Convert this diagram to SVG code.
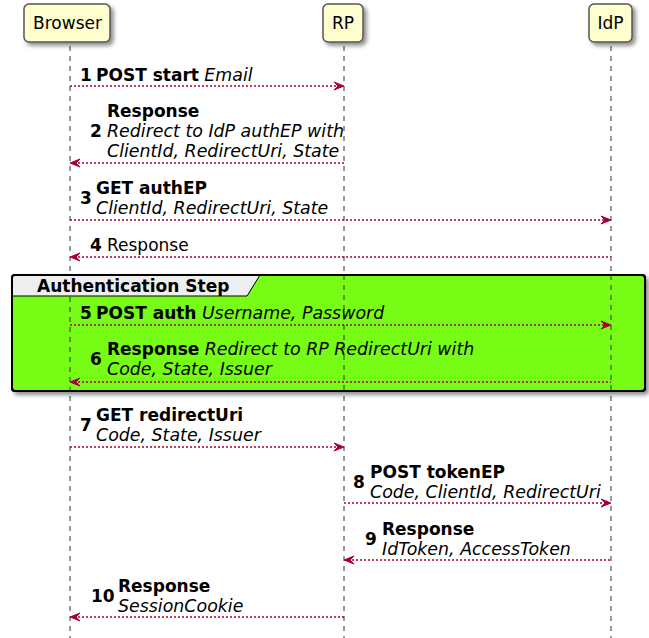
<svg xmlns="http://www.w3.org/2000/svg" width="649" height="638" viewBox="0 0 649 638">
<style>
text{font-family:"DejaVu Sans",sans-serif;font-size:17px;fill:#000}
.b{font-weight:bold}
.i{font-style:italic;font-size:17.4px}
.pt{font-size:17px}
.life{stroke:#333;stroke-width:1;stroke-dasharray:5,5;fill:none}
.msg{stroke:#A80036;stroke-width:1.5;stroke-dasharray:2,2;fill:none}
.head{fill:#A80036;stroke:#A80036;stroke-width:1}
.part{fill:#FEFECE;stroke:#555;stroke-width:1.5}
</style>
<defs>
<filter id="sh" x="-20%" y="-20%" width="150%" height="160%">
<feGaussianBlur in="SourceAlpha" stdDeviation="2"/>
<feOffset dx="3" dy="3" result="o"/>
<feComponentTransfer><feFuncA type="linear" slope="0.45"/></feComponentTransfer>
<feMerge><feMergeNode/><feMergeNode in="SourceGraphic"/></feMerge>
</filter>
</defs>
<g id="lifelines">
<line class="life" x1="70" y1="46" x2="70" y2="638"/>
<line class="life" x1="344" y1="46" x2="344" y2="638"/>
<line class="life" x1="611" y1="46" x2="611" y2="638"/>
</g>
<g id="group-auth">
<rect x="12" y="275" width="633" height="116" rx="3" fill="#77FC17" stroke="#000" stroke-width="2" filter="url(#sh)"/>
<path d="M12,278 Q12,275 15,275 L260,275 L247,296 L12,296 Z" fill="#EEEEEE" stroke="#000" stroke-width="1"/>
<rect x="12" y="275" width="633" height="116" rx="3" fill="none" stroke="#000" stroke-width="2"/>
<text class="b" x="37" y="292">Authentication Step</text>
<line class="life" x1="70" y1="297" x2="70" y2="391"/>
<line class="life" x1="344" y1="275" x2="344" y2="391"/>
<line class="life" x1="611" y1="275" x2="611" y2="391"/>
</g>
<g id="p-browser">
<rect class="part" x="24" y="4" width="86" height="38" rx="5" filter="url(#sh)"/>
<text class="pt" x="67.5" y="29" text-anchor="middle">Browser</text>
</g>
<g id="p-rp">
<rect class="part" x="323" y="4" width="40" height="38" rx="5" filter="url(#sh)"/>
<text class="pt" x="343" y="29" text-anchor="middle">RP</text>
</g>
<g id="p-idp">
<rect class="part" x="589" y="4" width="43" height="38" rx="5" filter="url(#sh)"/>
<text class="pt" x="610.5" y="29" text-anchor="middle">IdP</text>
</g>
<g id="connectors">
<line class="msg" x1="70" y1="86" x2="340" y2="86"/>
<polygon class="head" points="334,82 344,86 334,90 338,86"/>
<line class="msg" x1="74" y1="163" x2="344" y2="163"/>
<polygon class="head" points="80,159 70,163 80,167 76,163"/>
<line class="msg" x1="70" y1="220" x2="607" y2="220"/>
<polygon class="head" points="601,216 611,220 601,224 605,220"/>
<line class="msg" x1="74" y1="257" x2="611" y2="257"/>
<polygon class="head" points="80,253 70,257 80,261 76,257"/>
<line class="msg" x1="70" y1="325" x2="607" y2="325"/>
<polygon class="head" points="601,321 611,325 601,329 605,325"/>
<line class="msg" x1="74" y1="382" x2="611" y2="382"/>
<polygon class="head" points="80,378 70,382 80,386 76,382"/>
<line class="msg" x1="70" y1="447" x2="340" y2="447"/>
<polygon class="head" points="334,443 344,447 334,451 338,447"/>
<line class="msg" x1="344" y1="503" x2="607" y2="503"/>
<polygon class="head" points="601,499 611,503 601,507 605,503"/>
<line class="msg" x1="348" y1="560" x2="611" y2="560"/>
<polygon class="head" points="354,556 344,560 354,564 350,560"/>
<line class="msg" x1="74" y1="617" x2="344" y2="617"/>
<polygon class="head" points="80,613 70,617 80,621 76,617"/>
</g>
<g id="labels">
<text class="b" x="80" y="81">1</text>
<text x="96" y="81"><tspan class="b">POST start</tspan> <tspan class="i">Email</tspan></text>
<text class="b" x="107" y="117">Response</text>
<text class="b" x="90" y="137">2</text>
<text class="i" x="107" y="137">Redirect to IdP authEP with</text>
<text class="i" x="107" y="157">ClientId, RedirectUri, State</text>
<text class="b" x="96" y="194">GET authEP</text>
<text class="b" x="80" y="204">3</text>
<text class="i" x="96" y="214">ClientId, RedirectUri, State</text>
<text class="b" x="90" y="251">4</text>
<text x="107" y="251">Response</text>
<text class="b" x="80" y="319">5</text>
<text x="96" y="319"><tspan class="b">POST auth</tspan> <tspan class="i">Username, Password</tspan></text>
<text x="107" y="355"><tspan class="b">Response</tspan> <tspan class="i">Redirect to RP RedirectUri with</tspan></text>
<text class="b" x="90" y="365">6</text>
<text class="i" x="107" y="375">Code, State, Issuer</text>
<text class="b" x="96" y="421">GET redirectUri</text>
<text class="b" x="80" y="431">7</text>
<text class="i" x="96" y="441">Code, State, Issuer</text>
<text class="b" x="370" y="478">POST tokenEP</text>
<text class="b" x="353" y="488">8</text>
<text class="i" x="370" y="498">Code, ClientId, RedirectUri</text>
<text class="b" x="382" y="535">Response</text>
<text class="b" x="365" y="545">9</text>
<text class="i" x="382" y="555">IdToken, AccessToken</text>
<text class="b" x="118" y="592">Response</text>
<text class="b" x="91" y="602">10</text>
<text class="i" x="118" y="612">SessionCookie</text>
</g>
</svg>
